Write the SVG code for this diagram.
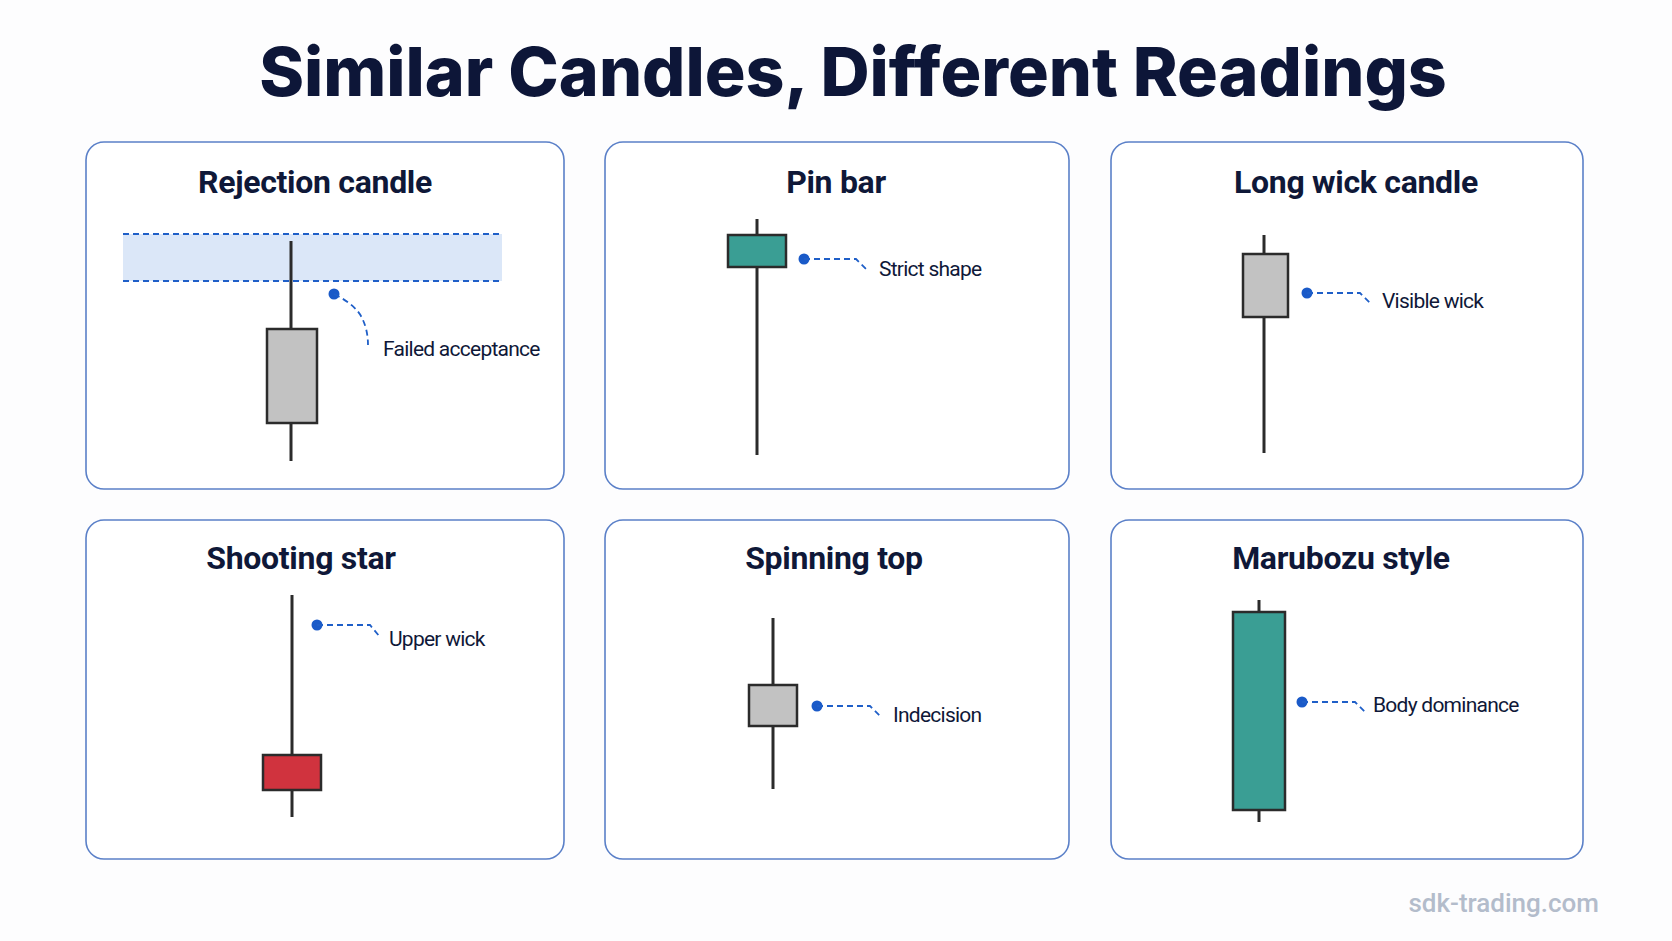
<svg xmlns="http://www.w3.org/2000/svg" width="1672" height="941" viewBox="0 0 1672 941">
<style>
.card{fill:#fff;stroke:#5b80c8;stroke-width:1.6}
.ct{font-family:Roboto,"Liberation Sans",sans-serif;font-weight:700;font-size:32px;fill:#0f1838;text-anchor:middle;letter-spacing:-0.3px}
.lb{font-family:Roboto,"Liberation Sans",sans-serif;font-size:21px;fill:#0f1838;letter-spacing:-0.75px}
.wick{stroke:#2b2b2b;stroke-width:3}
.body{stroke:#2b2b2b;stroke-width:2.5}
.gray{fill:#c2c2c2}.teal{fill:#3a9e94}.red{fill:#d0333e}
.lead{fill:none;stroke:#1f5fc8;stroke-width:1.8;stroke-dasharray:6 4}
.dot{fill:#1a5ac8}
</style>
<rect width="1672" height="941" fill="#fdfdfe"/>
<text x="853" y="96" font-family="Inter,Roboto,'Liberation Sans',sans-serif" font-weight="800" font-size="68" fill="#0d1638" text-anchor="middle">Similar Candles, Different Readings</text>
<g id="card-rejection">
<rect class="card" x="86" y="142" width="478" height="347" rx="18"/>
<text class="ct" x="315" y="193">Rejection candle</text>
<rect x="123" y="234" width="379" height="47" fill="#dbe7f8"/>
<line x1="123" y1="234" x2="502" y2="234" class="lead"/>
<line x1="123" y1="281" x2="502" y2="281" class="lead"/>
<line class="wick" x1="291" y1="241" x2="291" y2="461"/>
<rect class="body gray" x="267" y="329" width="50" height="94"/>
<text class="lb" x="383" y="356">Failed acceptance</text>
</g>
<g id="card-pinbar">
<rect class="card" x="605" y="142" width="464" height="347" rx="18"/>
<text class="ct" x="836" y="193">Pin bar</text>
<line class="wick" x1="757" y1="219" x2="757" y2="455"/>
<rect class="body teal" x="728" y="235" width="58" height="32"/>
<text class="lb" x="879" y="276">Strict shape</text>
</g>
<g id="card-longwick">
<rect class="card" x="1111" y="142" width="472" height="347" rx="18"/>
<text class="ct" x="1356" y="193">Long wick candle</text>
<line class="wick" x1="1264" y1="235" x2="1264" y2="453"/>
<rect class="body gray" x="1243" y="254" width="45" height="63"/>
<text class="lb" x="1382" y="308">Visible wick</text>
</g>
<g id="card-shooting">
<rect class="card" x="86" y="520" width="478" height="339" rx="18"/>
<text class="ct" x="301" y="569">Shooting star</text>
<line class="wick" x1="292" y1="595" x2="292" y2="817"/>
<rect class="body red" x="263" y="755" width="58" height="35"/>
<text class="lb" x="389" y="646">Upper wick</text>
</g>
<g id="card-spinning">
<rect class="card" x="605" y="520" width="464" height="339" rx="18"/>
<text class="ct" x="834" y="569">Spinning top</text>
<line class="wick" x1="773" y1="618" x2="773" y2="789"/>
<rect class="body gray" x="749" y="685" width="48" height="41"/>
<text class="lb" x="893" y="722">Indecision</text>
</g>
<g id="card-marubozu">
<rect class="card" x="1111" y="520" width="472" height="339" rx="18"/>
<text class="ct" x="1341" y="569">Marubozu style</text>
<line class="wick" x1="1259" y1="600" x2="1259" y2="822"/>
<rect class="body teal" x="1233" y="612" width="52" height="198"/>
<text class="lb" x="1373" y="712">Body dominance</text>
</g>
<g id="connectors">
<circle class="dot" cx="334" cy="294" r="5.5"/><path class="lead" d="M334 294 Q356 305 362 318 Q368 330 368 345"/>
<circle class="dot" cx="804" cy="259" r="5.5"/><path class="lead" d="M804 259 H856 L866 269"/>
<circle class="dot" cx="1307" cy="293" r="5.5"/><path class="lead" d="M1307 293 H1360 L1370 303"/>
<circle class="dot" cx="317" cy="625" r="5.5"/><path class="lead" d="M317 625 H370 L380 637"/>
<circle class="dot" cx="817" cy="706" r="5.5"/><path class="lead" d="M817 706 H870 L880 716"/>
<circle class="dot" cx="1302" cy="702" r="5.5"/><path class="lead" d="M1302 702 H1355 L1365 712"/>
</g>
<text x="1599" y="912" font-family="Roboto,'Liberation Sans',sans-serif" font-weight="500" font-size="26" fill="#b3bccb" text-anchor="end">sdk-trading.com</text>
</svg>
